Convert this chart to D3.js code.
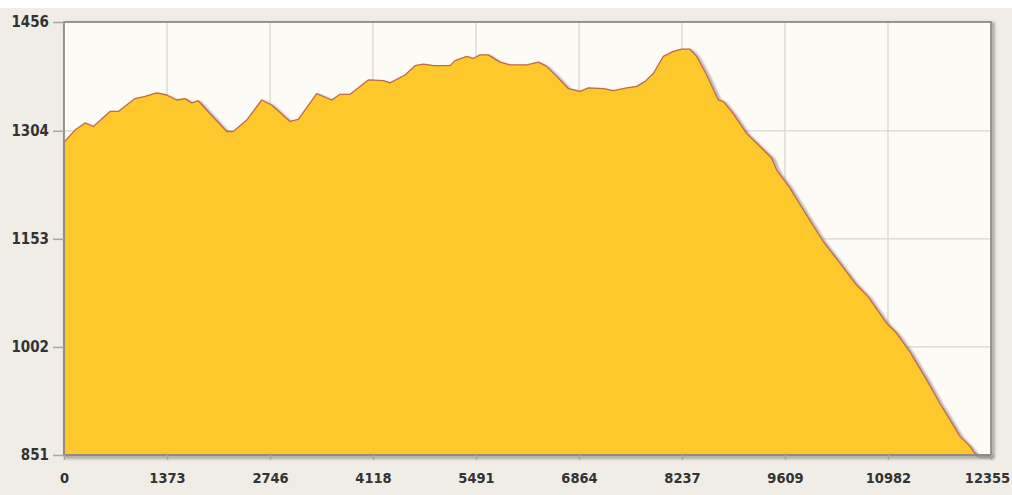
<!DOCTYPE html>
<html>
<head>
<meta charset="utf-8">
<script src="https://cdn.jsdelivr.net/npm/d3@7"></script>
<style>
  html, body { margin: 0; padding: 0; background: #ffffff; }
  svg { display: block; }
</style>
</head>
<body>
<svg id="chart" width="1012" height="495"></svg>
<script>
// Distance (x) values and elevation (y) values of the profile
const distances = [0, 147, 280, 391, 613, 724, 946, 1080, 1236, 1369, 1502, 1613, 1702, 1790, 1902,
  2168, 2256, 2435, 2635, 2768, 3012, 3123, 3368, 3568, 3679, 3812, 4056, 4256, 4345, 4545, 4678,
  4789, 4922, 5145, 5211, 5367, 5455, 5544, 5655, 5811, 5944, 6167, 6322, 6433, 6567, 6721, 6877,
  6988, 7188, 7321, 7500, 7633, 7744, 7854, 7988, 8121, 8233, 8343, 8433, 8566, 8721, 8787, 8920,
  9099, 9276, 9432, 9499, 9676, 9899, 10120, 10343, 10543, 10720, 10965, 11098, 11275, 11498,
  11675, 11809, 11942, 12075, 12142, 12208, 12355];
const elevations = [1288, 1305, 1315, 1310, 1331, 1331, 1349, 1352, 1357, 1354, 1347, 1349, 1343, 1346, 1333,
  1303, 1303, 1319, 1347, 1340, 1317, 1320, 1356, 1347, 1355, 1355, 1375, 1374, 1371, 1382, 1395,
  1397, 1395, 1395, 1402, 1408, 1405, 1410, 1410, 1400, 1396, 1396, 1400, 1394, 1380, 1363, 1359,
  1364, 1363, 1360, 1364, 1366, 1373, 1384, 1408, 1415, 1418, 1418, 1408, 1382, 1347, 1345, 1328,
  1300, 1282, 1266, 1249, 1224, 1186, 1149, 1119, 1091, 1072, 1035, 1021, 995, 956,
  923, 900, 877, 863, 853, 851, 851];
const xTicks = [0, 1373, 2746, 4118, 5491, 6864, 8237, 9609, 10982, 12355];
const yTicks = [851, 1002, 1153, 1304, 1456];

const data = distances.map((d, i) => ({ d, v: elevations[i] }));

const svg = d3.select("#chart");
const W = 1012, H = 495;
const m = { left: 64, right: 21, top: 22, bottom: 40 };
const x0 = m.left, x1 = W - m.right, y0 = m.top, y1 = H - m.bottom;

const x = d3.scaleLinear().domain([0, 12355]).range([x0, x1]);
const y = d3.scaleLinear().domain([851, 1456]).range([y1, y0]);

const defs = svg.append("defs");
const blur = defs.append("filter").attr("id", "blur").attr("x", "-5%").attr("y", "-5%").attr("width", "110%").attr("height", "110%");
blur.append("feGaussianBlur").attr("stdDeviation", 1.2);
const fshadow = defs.append("filter").attr("id", "frameShadow").attr("x", "-5%").attr("y", "-5%").attr("width", "110%").attr("height", "110%");
fshadow.append("feGaussianBlur").attr("stdDeviation", 1.5);

// outer background
svg.append("rect").attr("x", 0).attr("y", 8).attr("width", W).attr("height", H - 8).attr("fill", "#f0ece6");

// frame shadow
svg.append("rect").attr("x", x0 + 2).attr("y", y0 + 2).attr("width", x1 - x0).attr("height", y1 - y0)
  .attr("fill", "none").attr("stroke", "#9a9690").attr("stroke-width", 3).attr("filter", "url(#frameShadow)");

// plot background
svg.append("rect").attr("x", x0).attr("y", y0).attr("width", x1 - x0).attr("height", y1 - y0).attr("fill", "#fdfbf6");

// grid lines
const grid = svg.append("g");
grid.selectAll("line.v").data(xTicks.slice(1, -1)).join("line")
  .attr("x1", d => x(d)).attr("x2", d => x(d)).attr("y1", y0).attr("y2", y1)
  .attr("stroke", "#d8d6d2").attr("stroke-width", 1.3);
grid.selectAll("line.h").data(yTicks.slice(1, -1)).join("line")
  .attr("x1", x0).attr("x2", x1).attr("y1", d => y(d)).attr("y2", d => y(d))
  .attr("stroke", "#d8d6d2").attr("stroke-width", 1.3);

// area
const area = d3.area().x(d => x(d.d)).y0(y1).y1(d => y(d.v)).curve(d3.curveLinear);
const line = d3.line().x(d => x(d.d)).y(d => y(d.v)).curve(d3.curveLinear);

svg.append("path").datum(data).attr("d", line)
  .attr("transform", "translate(2.5,2)")
  .attr("fill", "none").attr("stroke", "#7d6f80").attr("stroke-width", 2.2).attr("opacity", 0.7)
  .attr("filter", "url(#blur)");

svg.append("path").datum(data).attr("d", area)
  .attr("fill", "#fdc82b").attr("stroke", "#bf6a4a").attr("stroke-width", 1.3).attr("stroke-linejoin", "round");

// frame
svg.append("rect").attr("x", x0).attr("y", y0).attr("width", x1 - x0).attr("height", y1 - y0)
  .attr("fill", "none").attr("stroke", "#8c8c8c").attr("stroke-width", 1.8);

// axes
const xAxis = d3.axisBottom(x).tickValues(xTicks).tickFormat(d3.format("d")).tickSize(5).tickPadding(13);
const yAxis = d3.axisLeft(y).tickValues(yTicks).tickFormat(d3.format("d")).tickSize(11).tickPadding(4);

const gx = svg.append("g").attr("transform", `translate(0,${y1})`).call(xAxis).attr("font-size", null);
const gy = svg.append("g").attr("transform", `translate(${x0},0)`).call(yAxis).attr("font-size", null);
[gx, gy].forEach(g => {
  g.attr("font-family", null);
  g.select(".domain").remove();
  g.selectAll(".tick line").attr("stroke", "#a9a7a3").attr("stroke-width", 1.5);
  g.selectAll(".tick text")
    .attr("fill", "#333333")
    .attr("font-family", "'DejaVu Sans Condensed', 'DejaVu Sans', sans-serif")
    .attr("font-weight", "bold");
});
gx.selectAll(".tick text").attr("font-size", "14.5px");
gx.selectAll(".tick text").filter(d => d === xTicks[xTicks.length - 1]).attr("dx", -4);
gy.selectAll(".tick text").attr("font-size", "15px").attr("dy", "0.32em");
</script>
</body>
</html>
